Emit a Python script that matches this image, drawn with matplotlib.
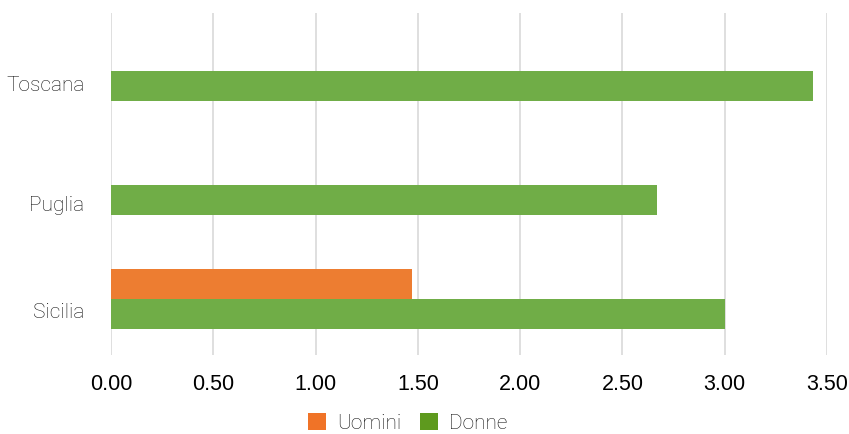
import matplotlib
matplotlib.use("Agg")
import matplotlib.pyplot as plt
from matplotlib.patches import Patch
import numpy as np

categories = ["Sicilia", "Puglia", "Toscana"]
uomini = [1.47, np.nan, np.nan]
donne = [3.00, 2.67, 3.43]
xticks = [0.0, 0.5, 1.0, 1.5, 2.0, 2.5, 3.0, 3.5]

fig = plt.figure(figsize=(8.49, 4.34), dpi=100)
ax = fig.add_axes([111/849, 1-355/434, 716/849, 342/434])

y = np.arange(len(categories))
h = 0.262
ax.barh(y + h/2, uomini, height=h, color="#ED7D31", zorder=3)
ax.barh(y - h/2, donne, height=h, color="#70AD47", zorder=3)

ax.set_xlim(0, 3.5)
ax.set_ylim(-0.49, 2.507)
ax.set_xticks(xticks)
ax.set_xticklabels([f"{v:.2f}" for v in xticks], fontfamily="Liberation Sans", fontsize=15.5)
label_offsets = [-0.096, -0.166, -0.114]
ax.set_yticks(y + np.array(label_offsets))
ax.set_yticklabels(categories, fontfamily="Roboto", fontweight="light", fontsize=15, color="#111111")
ax.tick_params(axis="both", length=0)
ax.tick_params(axis="x", pad=14)
ax.tick_params(axis="y", pad=19)
for s in ax.spines.values():
    s.set_visible(False)
ax.grid(axis="x", color="#D9D9D9", linewidth=1.2, zorder=0)
ax.set_axisbelow(True)

handles = [Patch(facecolor="#F07327", edgecolor="none", label="Uomini"),
           Patch(facecolor="#5E9A1E", edgecolor="none", label="Donne")]
leg = fig.legend(handles=handles, loc="center", bbox_to_anchor=(408/849, 1-423/434),
                 ncol=2, frameon=False,
                 prop={"family": "Roboto", "weight": "light", "size": 15},
                 handlelength=0.85, handleheight=0.85, columnspacing=0.9, handletextpad=0.55,
                 borderpad=0.1)
for t in leg.get_texts():
    t.set_color("#111111")

fig.savefig("out.png", dpi=100)
